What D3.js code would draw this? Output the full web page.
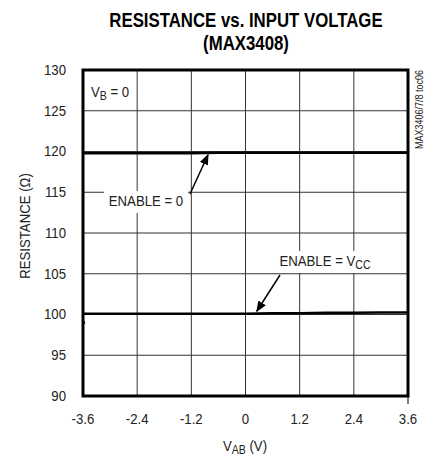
<!DOCTYPE html>
<html><head><meta charset="utf-8">
<script src="https://cdn.jsdelivr.net/npm/d3@7"></script>
<style>
body{margin:0;background:#fff;}
text{font-family:"Liberation Sans",Arial,sans-serif;fill:#222;}
</style></head>
<body><svg id="c" width="434" height="458"></svg>
<script>
const titleLines = ["RESISTANCE vs. INPUT VOLTAGE", "(MAX3408)"];
const xTicks = [-3.6, -2.4, -1.2, 0, 1.2, 2.4, 3.6];
const xTickLabels = ["-3.6", "-2.4", "-1.2", "0", "1.2", "2.4", "3.6"];
const yTicks = [90, 95, 100, 105, 110, 115, 120, 125, 130];
const voltage = [-3.6, -3.0, -2.4, -1.8, -1.2, -0.6, 0, 0.6, 1.2, 1.8, 2.4, 3.0, 3.6];
const enable0 = [119.8, 119.8, 119.8, 119.8, 119.8, 119.85, 119.85, 119.85, 119.85, 119.85, 119.85, 119.85, 119.85];
const enableVcc = [100.1, 100.1, 100.1, 100.1, 100.1, 100.1, 100.1, 100.15, 100.15, 100.2, 100.2, 100.25, 100.25];

const svg = d3.select("#c");
const L = 83, R = 408, T = 70, B = 396;
const x = d3.scaleLinear().domain([-3.6, 3.6]).range([L, R]);
const y = d3.scaleLinear().domain([90, 130]).range([B, T]);
const K = 0.88; // narrow-font look

function sq(sel, k) {
  sel.each(function() {
    const s = d3.select(this);
    const ax = +s.attr("x"), ay = +s.attr("y");
    s.attr("transform", `translate(${ax},${ay}) scale(${k},1) translate(${-ax},${-ay})`);
  });
  return sel;
}

// title
svg.selectAll(".title").data(titleLines).enter().append("text")
  .attr("x", 246).attr("y", (d, i) => 27 + i * 23)
  .attr("text-anchor", "middle").style("font-size", "21px").style("font-weight", "bold")
  .style("fill", "#000").text(d => d)
  .call(sq, 0.8);

// grid
const g = svg.append("g");
g.selectAll(".vg").data(xTicks).enter().append("line")
  .attr("x1", d => x(d)).attr("x2", d => x(d)).attr("y1", T).attr("y2", B)
  .attr("stroke", "#333").attr("stroke-width", 1);
g.selectAll(".hg").data(yTicks).enter().append("line")
  .attr("x1", L).attr("x2", R).attr("y1", d => y(d)).attr("y2", d => y(d))
  .attr("stroke", "#333").attr("stroke-width", 1);

// x tick mark below the right end
svg.append("line").attr("x1", x(3.6)).attr("x2", x(3.6)).attr("y1", B).attr("y2", B + 8)
  .attr("stroke", "#000").attr("stroke-width", 1);

// lines
const line = d3.line().x((d, i) => x(voltage[i])).y(d => y(d));
svg.append("path").datum(enable0).attr("d", line).attr("fill", "none")
  .attr("stroke", "#000").attr("stroke-width", 2.5);
svg.append("path").datum(enableVcc).attr("d", line).attr("fill", "none")
  .attr("stroke", "#000").attr("stroke-width", 2.5);
svg.append("circle").attr("cx", x(-3.58)).attr("cy", y(99.0)).attr("r", 1.3).attr("fill", "#000");

// frame
svg.append("rect").attr("x", L).attr("y", T).attr("width", R - L).attr("height", B - T)
  .attr("fill", "none").attr("stroke", "#000").attr("stroke-width", 3);

// tick labels
svg.selectAll(".xt").data(xTicks).enter().append("text")
  .attr("x", d => x(d)).attr("y", 424).attr("text-anchor", "middle")
  .style("font-size", "15px").text((d, i) => xTickLabels[i]).call(sq, K);
svg.selectAll(".yt").data(yTicks).enter().append("text")
  .attr("x", 66).attr("y", d => y(d) + 5).attr("text-anchor", "end")
  .style("font-size", "15px").text(d => d).call(sq, K);

// axis titles
const xt = svg.append("text").attr("x", 245).attr("y", 451).attr("text-anchor", "middle").style("font-size", "15px");
xt.append("tspan").text("V");
xt.append("tspan").attr("dy", 3).style("font-size", "12px").text("AB");
xt.append("tspan").attr("dy", -3).text(" (V)");
sq(xt, K);

svg.append("text").attr("transform", `translate(30,226) rotate(-90) scale(${K},1)`).attr("text-anchor", "middle")
  .style("font-size", "15px").text("RESISTANCE (Ω)");

// side note
svg.append("text").attr("transform", "translate(423,70) rotate(-90) scale(0.9,1)").attr("text-anchor", "end")
  .style("font-size", "10px").text("MAX3406/7/8 toc06");

// VB label
const vb = svg.append("text").attr("x", 91).attr("y", 97).style("font-size", "15px");
vb.append("tspan").text("V");
vb.append("tspan").attr("dy", 3).style("font-size", "12px").text("B");
vb.append("tspan").attr("dy", -3).text(" = 0");
sq(vb, K);

// arrows
svg.append("defs").append("marker").attr("id", "ah").attr("viewBox", "0 0 10 10")
  .attr("refX", 9).attr("refY", 5).attr("markerWidth", 11).attr("markerHeight", 11)
  .attr("markerUnits", "userSpaceOnUse").attr("orient", "auto")
  .append("path").attr("d", "M0,1 L10,5 L0,9 Z").attr("fill", "#000");

function label(cx, base, w, parts) {
  svg.append("rect").attr("x", cx - w / 2).attr("y", base - 15).attr("width", w).attr("height", 22).attr("fill", "#fff");
  const t = svg.append("text").attr("x", cx).attr("y", base).attr("text-anchor", "middle").style("font-size", "15px");
  parts.forEach(p => {
    const s = t.append("tspan").text(p.t);
    if (p.sub) s.attr("dy", 3).style("font-size", "12px");
  });
  sq(t, K);
}
label(146, 206, 84, [{t: "ENABLE = 0"}]);
svg.append("line").attr("x1", 190).attr("y1", 194).attr("x2", x(-0.83)).attr("y2", y(119.85) + 2)
  .attr("stroke", "#000").attr("stroke-width", 1.5).attr("marker-end", "url(#ah)");

label(325, 266, 98, [{t: "ENABLE = V"}, {t: "CC", sub: true}]);
svg.append("line").attr("x1", 280).attr("y1", 275).attr("x2", x(0.25)).attr("y2", y(100.15) - 2)
  .attr("stroke", "#000").attr("stroke-width", 1.5).attr("marker-end", "url(#ah)");
</script></body></html>
